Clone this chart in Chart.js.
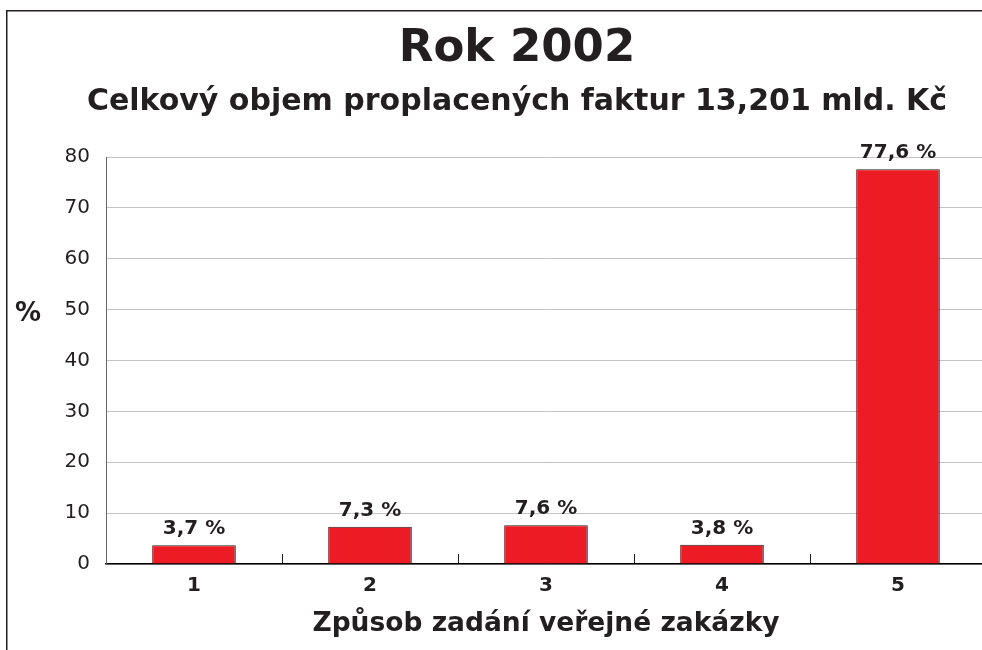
<!DOCTYPE html>
<html>
<head>
<meta charset="utf-8">
<script src="https://cdn.jsdelivr.net/npm/chart.js@4"></script>
<style>
  html, body { margin: 0; padding: 0; background: #fff; overflow: hidden; width: 982px; height: 650px; }
  #wrap { position: absolute; left: 0; top: 0; width: 990px; height: 650px; }
</style>
</head>
<body>
<div id="wrap"><canvas id="c"></canvas></div>
<script>
const titleText = "Rok 2002";
const subtitleText = "Celkový objem proplacených faktur 13,201 mld. Kč";
const xAxisTitle = "Způsob zadání veřejné zakázky";
const yAxisTitle = "%";
const categories = ["1", "2", "3", "4", "5"];
const values = [3.7, 7.3, 7.6, 3.8, 77.6];
const valueLabels = ["3,7 %", "7,3 %", "7,6 %", "3,8 %", "77,6 %"];
const yTicks = [0, 10, 20, 30, 40, 50, 60, 70, 80];

const FONT = "'DejaVu Sans', 'Liberation Sans', Arial, sans-serif";

const framePlugin = {
  id: 'frame',
  beforeDraw(chart) {
    const ctx = chart.ctx;
    ctx.save();
    ctx.strokeStyle = '#231f20';
    ctx.lineWidth = 1.5;
    ctx.beginPath();
    ctx.moveTo(6.75, chart.height + 5);
    ctx.lineTo(6.75, 10.75);
    ctx.lineTo(chart.width + 5, 10.75);
    ctx.stroke();
    ctx.restore();
  }
};

const labelsPlugin = {
  id: 'valueLabels',
  afterDatasetsDraw(chart) {
    const ctx = chart.ctx;
    const meta = chart.getDatasetMeta(0);
    ctx.save();
    ctx.font = "bold 20px " + FONT;
    ctx.fillStyle = "#231f20";
    ctx.textAlign = "center";
    ctx.textBaseline = "alphabetic";
    meta.data.forEach((bar, i) => {
      ctx.fillText(valueLabels[i], bar.x, bar.y - 11);
    });
    // horizontal y-axis title
    const ys = chart.scales.y;
    ctx.font = "bold 26px " + FONT;
    ctx.textAlign = "center";
    ctx.textBaseline = "middle";
    ctx.fillText(yAxisTitle, 28, ys.getPixelForValue(49));
    ctx.restore();
  }
};

new Chart(document.getElementById('c'), {
  type: 'bar',
  data: {
    labels: categories,
    datasets: [{
      data: values,
      backgroundColor: '#ed1c24',
      borderColor: '#231f20',
      borderWidth: 1,
      categoryPercentage: 1.0,
      barPercentage: 0.475
    }]
  },
  options: {
    responsive: true,
    maintainAspectRatio: false,
    animation: false,
    devicePixelRatio: 1,
    layout: { padding: { left: 48, right: 4, top: 0, bottom: 0 } },
    plugins: {
      legend: { display: false },
      tooltip: { enabled: false },
      title: {
        display: true,
        text: titleText,
        color: '#231f20',
        font: { family: FONT, size: 45, weight: 'bold', lineHeight: 1.0 },
        padding: { top: 27, bottom: 15 }
      },
      subtitle: {
        display: true,
        text: subtitleText,
        color: '#231f20',
        font: { family: FONT, size: 30, weight: 'bold', lineHeight: 1.0 },
        padding: { top: 0, bottom: 40 }
      }
    },
    scales: {
      x: {
        grid: { display: true, drawOnChartArea: false, drawTicks: true, tickLength: -10, color: '#231f20', offset: true },
        border: { display: true, color: '#000', width: 1.5 },
        ticks: { color: '#231f20', font: { family: FONT, size: 20, weight: 'bold' }, padding: 20 },
        title: {
          display: true, text: xAxisTitle, color: '#231f20',
          font: { family: FONT, size: 26.5, weight: 'bold', lineHeight: 1.0 },
          padding: { top: 8, bottom: 13 }
        },
        afterFit(scale) { scale.height = 86; }
      },
      y: {
        min: 0, max: 80,
        afterBuildTicks(scale) { scale.ticks = yTicks.map(v => ({ value: v })); },
        grid: { color: '#c4c4c4', lineWidth: 1, drawTicks: false },
        border: { display: true, color: '#666', width: 1 },
        ticks: { color: '#231f20', font: { family: FONT, size: 20 }, padding: 16 },
        afterFit(scale) { scale.width = 58; }
      }
    }
  },
  plugins: [framePlugin, labelsPlugin]
});
</script>
</body>
</html>
